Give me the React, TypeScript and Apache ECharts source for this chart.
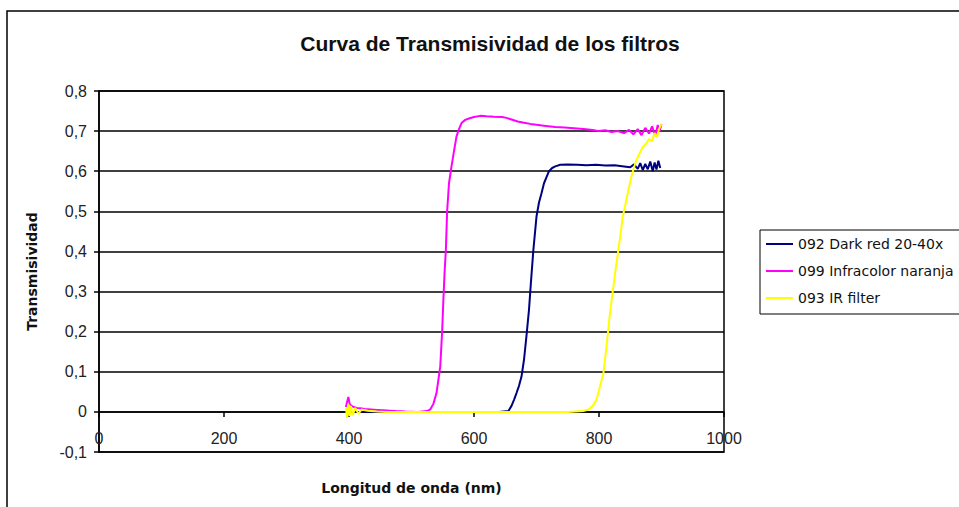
import React, { useEffect, useRef } from "react";
import * as echarts from "echarts";

// Wavelength (nm) / transmissivity samples for each filter
const darkRedNm = [395, 420, 450, 500, 550, 600, 640, 655, 660, 664, 668, 672, 676, 680, 684, 688, 691, 695, 700, 704, 708, 712, 716, 720, 725, 730, 738, 750, 765, 780, 795, 810, 825, 840, 850, 856, 862, 866, 870, 874, 878, 882, 886, 889, 892, 895, 898];
const darkRedT = [0, 0, 0, 0, 0, 0, 0, 0.002, 0.015, 0.03, 0.047, 0.065, 0.088, 0.13, 0.19, 0.255, 0.321, 0.404, 0.487, 0.522, 0.545, 0.57, 0.585, 0.6, 0.608, 0.612, 0.616, 0.617, 0.616, 0.615, 0.616, 0.614, 0.615, 0.612, 0.61, 0.617, 0.606, 0.62, 0.603, 0.618, 0.605, 0.624, 0.6, 0.622, 0.604, 0.626, 0.608];

const infracolorNm = [395, 397, 399, 401, 404, 408, 412, 418, 425, 435, 445, 455, 465, 475, 490, 510, 525, 530, 535, 540, 543, 546, 549, 551, 553, 555, 557, 560, 564, 568, 572, 576, 580, 586, 593, 600, 610, 620, 632, 645, 652, 660, 670, 680, 690, 700, 715, 730, 745, 760, 775, 790, 800, 810, 820, 830, 840, 848, 855, 862, 868, 874, 880, 885, 890, 894, 897, 900];
const infracolorT = [0.012, 0.025, 0.037, 0.02, 0.015, 0.012, 0.01, 0.009, 0.007, 0.006, 0.005, 0.004, 0.003, 0.002, 0.001, 0, 0.002, 0.006, 0.02, 0.047, 0.08, 0.113, 0.2, 0.279, 0.35, 0.404, 0.5, 0.57, 0.612, 0.65, 0.687, 0.705, 0.72, 0.728, 0.732, 0.735, 0.738, 0.737, 0.736, 0.735, 0.733, 0.729, 0.724, 0.721, 0.718, 0.716, 0.713, 0.71, 0.709, 0.707, 0.705, 0.703, 0.7, 0.702, 0.698, 0.7, 0.695, 0.703, 0.692, 0.705, 0.69, 0.708, 0.694, 0.712, 0.688, 0.715, 0.7, 0.718];

const irFilterNm = [395, 397, 399, 401, 403, 406, 410, 415, 420, 430, 445, 460, 480, 520, 560, 600, 650, 700, 750, 775, 783, 790, 796, 801, 807, 812, 817, 823, 827, 831, 835, 838, 842, 846, 849, 852, 856, 860, 865, 870, 876, 880, 885, 889, 893, 896, 900];
const irFilterT = [0.01, -0.015, 0.02, -0.01, 0.015, -0.008, 0.01, -0.005, 0.006, 0.003, 0.001, 0, 0, 0, 0, 0, 0, 0, 0, 0.002, 0.006, 0.015, 0.03, 0.06, 0.096, 0.163, 0.238, 0.312, 0.36, 0.404, 0.45, 0.487, 0.515, 0.545, 0.567, 0.587, 0.61, 0.628, 0.645, 0.66, 0.67, 0.68, 0.675, 0.695, 0.685, 0.705, 0.718];

const seriesNames = ["092 Dark red 20-40x", "099 Infracolor naranja", "093 IR filter"];
const seriesColors = ["#000080", "#FF00FF", "#FFFF00"];
const xTicks = [0, 200, 400, 600, 800, 1000];

const pairs = (xs: number[], ys: number[]) => xs.map((x, i) => [x, ys[i]]);

export default function App() {
  const ref = useRef<HTMLDivElement>(null);

  useEffect(() => {
    document.body.style.margin = "0";
    const chart = echarts.init(ref.current!, undefined, { renderer: "svg" });
    const data = [
      pairs(darkRedNm, darkRedT),
      pairs(infracolorNm, infracolorT),
      pairs(irFilterNm, irFilterT),
    ];
    chart.setOption({
      animation: false,
      backgroundColor: "#ffffff",
      title: {
        text: "Curva de Transmisividad de los filtros",
        left: 485,
        top: 28,
        textAlign: "center",
        textStyle: { fontFamily: "Liberation Sans", fontSize: 21, fontWeight: "bold", color: "#111" },
      },
      graphic: [
        {
          type: "rect",
          shape: { x: 7, y: 11, width: 1000, height: 600 },
          style: { fill: "none", stroke: "#000", lineWidth: 1.5 },
          silent: true,
        },
      ],
      legend: {
        orient: "vertical",
        left: 760,
        top: 230,
        padding: [6, 6, 8, 6],
        itemGap: 11,
        itemWidth: 27,
        itemHeight: 2,
        icon: "rect",
        borderColor: "#000",
        borderWidth: 1,
        backgroundColor: "#fff",
        textStyle: { fontFamily: "DejaVu Sans", fontSize: 14, color: "#111", lineHeight: 16 },
        data: seriesNames,
      },
      grid: {
        left: 99,
        top: 91,
        width: 625,
        height: 361,
        show: true,
        containLabel: false,
        outerBoundsMode: "none",
        borderColor: "#000",
        borderWidth: 1.5,
        backgroundColor: "#fff",
      },
      xAxis: {
        type: "value",
        min: 0,
        max: 1000,
        interval: 200,
        name: "Longitud de onda (nm)",
        nameLocation: "middle",
        nameGap: 29,
        nameTextStyle: { fontFamily: "DejaVu Sans", fontSize: 14, fontWeight: "bold", color: "#111" },
        axisLine: { onZero: true, lineStyle: { color: "#000", width: 1.5 } },
        axisTick: { show: true, length: 5, lineStyle: { color: "#000", width: 1.5 } },
        axisLabel: {
          margin: -22,
          fontFamily: "Liberation Sans",
          fontSize: 16,
          color: "#222",
          formatter: (v: number) => (xTicks.includes(v) ? String(v) : ""),
        },
        splitLine: { show: false },
      },
      yAxis: {
        type: "value",
        min: -0.1,
        max: 0.8,
        interval: 0.1,
        name: "Transmisividad",
        nameLocation: "middle",
        nameGap: 60,
        nameTextStyle: { fontFamily: "DejaVu Sans", fontSize: 14, fontWeight: "bold", color: "#111" },
        axisLine: { show: true, lineStyle: { color: "#000", width: 1.5 } },
        axisTick: { show: true, length: 5, lineStyle: { color: "#000", width: 1.5 } },
        axisLabel: {
          margin: 12,
          fontFamily: "Liberation Sans",
          fontSize: 16,
          color: "#222",
          formatter: (v: number) => (Math.abs(v) < 1e-9 ? "0" : v.toFixed(1).replace(".", ",")),
        },
        splitLine: { show: true, lineStyle: { color: "#000", width: 1.5 } },
      },
      series: seriesNames.map((name, i) => ({
        name,
        type: "line",
        data: data[i],
        showSymbol: false,
        symbol: "none",
        lineStyle: { color: seriesColors[i], width: 2 },
        itemStyle: { color: seriesColors[i] },
      })),
    });
    return () => chart.dispose();
  }, []);

  return <div ref={ref} style={{ position: "fixed", left: 0, top: 0, width: 959, height: 507 }} />;
}
